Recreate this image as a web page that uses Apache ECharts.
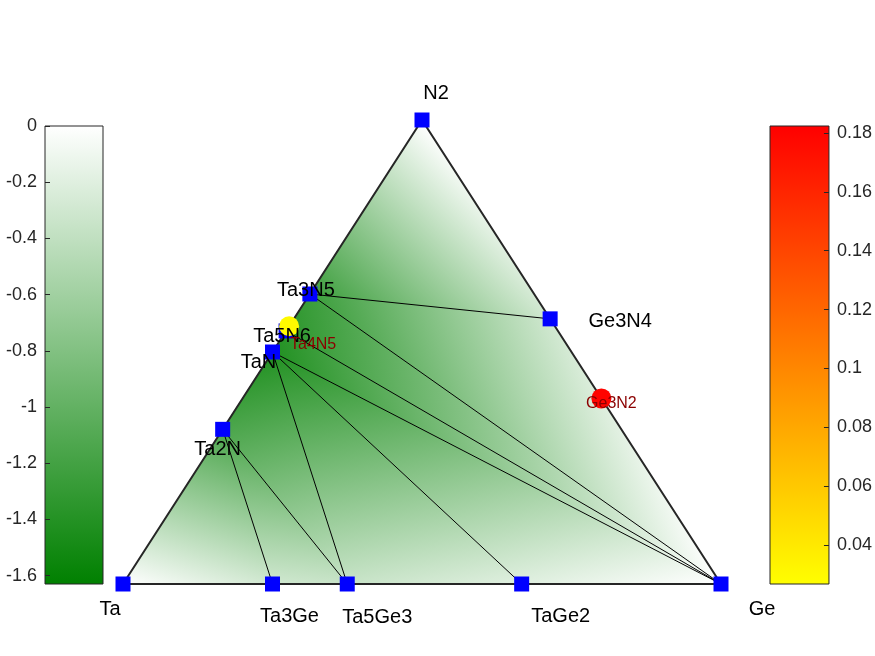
<!DOCTYPE html>
<html>
<head>
<meta charset="utf-8">
<title>Ta-Ge-N phase diagram</title>
<script src="https://cdn.jsdelivr.net/npm/echarts@6/dist/echarts.min.js"></script>
<style>
  html, body { margin: 0; padding: 0; background: #fff; }
  #chart { width: 875px; height: 656px; }
</style>
</head>
<body>
<div id="chart"></div>
<script>
// Stable phases (on the hull): composition fractions and formation energy (eV/atom)
const phases = ['Ta', 'Ge', 'N2', 'Ta2N', 'TaN', 'Ta5N6', 'Ta3N5', 'Ge3N4', 'Ta3Ge', 'Ta5Ge3', 'TaGe2'];
const fracGe = [0, 1, 0, 0, 0, 0, 0, 3 / 7, 1 / 4, 3 / 8, 2 / 3];
const fracN = [0, 0, 1, 1 / 3, 1 / 2, 6 / 11, 5 / 8, 4 / 7, 0, 0, 0];
const formationEnergy = [0, 0, 0, -1.15, -1.42, -1.35, -1.25, -0.3, -0.3, -0.35, -0.2];

// Unstable phases and their energy above the hull (eV/atom)
const unstable = ['Ta4N5', 'Ge3N2'];
const unstableGe = [0, 3 / 5];
const unstableN = [5 / 9, 2 / 5];
const eAboveHull = [0.03, 0.18];

// Hull tie lines and facets
const corners = ['Ta', 'Ge', 'N2'];
const tieLines = [
  ['Ta2N', 'Ta3Ge'], ['Ta2N', 'Ta5Ge3'], ['TaN', 'Ta5Ge3'], ['TaN', 'TaGe2'],
  ['TaN', 'Ge'], ['Ta5N6', 'Ge'], ['Ta3N5', 'Ge'], ['Ta3N5', 'Ge3N4']
];
const facets = [
  ['Ta', 'Ta2N', 'Ta3Ge'], ['Ta2N', 'Ta3Ge', 'Ta5Ge3'], ['Ta2N', 'TaN', 'Ta5Ge3'],
  ['TaN', 'Ta5Ge3', 'TaGe2'], ['TaN', 'TaGe2', 'Ge'], ['TaN', 'Ta5N6', 'Ge'],
  ['Ta5N6', 'Ta3N5', 'Ge'], ['Ta3N5', 'Ge3N4', 'Ge'], ['Ta3N5', 'N2', 'Ge3N4']
];

// Colour bar ranges and tick labels
const energyRange = [-1.63, 0];
const energyTicks = [-1.6, -1.4, -1.2, -1, -0.8, -0.6, -0.4, -0.2, 0];
const hullRange = [0.0267, 0.1824];
const hullTicks = [0.04, 0.06, 0.08, 0.1, 0.12, 0.14, 0.16, 0.18];

// label placement (pixels from the marker), not data
const labelOffsets = {
  Ta: [-13, 25], Ge: [41, 25], N2: [14, -27], Ta2N: [-5, 20], TaN: [-14, 10],
  Ta5N6: [-4, 6], Ta3N5: [-4, -4], Ge3N4: [70, 3], Ta3Ge: [17, 32],
  Ta5Ge3: [30, 33], TaGe2: [39, 32], Ta4N5: [24, 18], Ge3N2: [10, 5]
};

const FONT = "'Liberation Sans', Arial, sans-serif";
const GREEN = '#008000';

// ternary -> cartesian
function tern(ge, n) { return [ge + n / 2, n]; }
function pos(name) {
  const i = phases.indexOf(name);
  return tern(fracGe[i], fracN[i]);
}

const facetData = facets.map(f => {
  const row = [];
  f.forEach(name => {
    const p = pos(name);
    row.push(p[0], p[1], formationEnergy[phases.indexOf(name)]);
  });
  return row;
});

// Gouraud-like fill: linear colour over each facet as a global linear gradient
function renderFacet(params, api) {
  const pts = [0, 1, 2].map(k => api.coord([api.value(3 * k), api.value(3 * k + 1)]));
  const v = [0, 1, 2].map(k => api.value(3 * k + 2));
  const d1 = [pts[1][0] - pts[0][0], pts[1][1] - pts[0][1]];
  const d2 = [pts[2][0] - pts[0][0], pts[2][1] - pts[0][1]];
  const dv1 = v[1] - v[0], dv2 = v[2] - v[0];
  const det = d1[0] * d2[1] - d1[1] * d2[0];
  const gx = (dv1 * d2[1] - d1[1] * dv2) / det;
  const gy = (d1[0] * dv2 - dv1 * d2[0]) / det;
  const g2 = gx * gx + gy * gy;
  let fill;
  if (g2 < 1e-14) {
    fill = '#ffffff';
  } else {
    const a = (energyRange[0] - v[0]) / g2;
    const b = (energyRange[1] - v[0]) / g2;
    fill = {
      type: 'linear', global: true,
      x: pts[0][0] + gx * a, y: pts[0][1] + gy * a,
      x2: pts[0][0] + gx * b, y2: pts[0][1] + gy * b,
      colorStops: [{ offset: 0, color: GREEN }, { offset: 1, color: '#ffffff' }]
    };
  }
  return {
    type: 'polygon',
    shape: { points: pts },
    style: { fill: fill, stroke: fill, lineWidth: 1 }
  };
}

function renderColorbar(colors) {
  return function (params, api) {
    const p1 = api.coord([0, api.value(1)]);
    const p2 = api.coord([1, api.value(0)]);
    return {
      type: 'rect',
      shape: { x: p1[0], y: p1[1], width: p2[0] - p1[0], height: p2[1] - p1[1] },
      style: {
        fill: {
          type: 'linear', x: 0, y: 0, x2: 0, y2: 1,
          colorStops: [{ offset: 0, color: colors[0] }, { offset: 1, color: colors[1] }]
        },
        stroke: '#262626', lineWidth: 1
      }
    };
  };
}

const tieData = tieLines.map(([a, b]) => ({ coords: [pos(a), pos(b)] }));
const edgeData = [{ coords: [pos(corners[0]), pos(corners[1]), pos(corners[2]), pos(corners[0])] }];

const phaseData = phases.map(name => [...pos(name), name]);
const unstableData = unstable.map((name, i) => [...tern(unstableGe[i], unstableN[i]), eAboveHull[i], name]);

function labelItems(list, color, size) {
  return list.map(d => {
    const name = d[d.length - 1];
    return {
      value: [d[0], d[1]],
      name: name,
      label: { offset: labelOffsets[name], color: color, fontSize: size }
    };
  });
}

const chart = echarts.init(document.getElementById('chart'));

const tickAxis = (range, ticks, side) => ({
  type: 'value', gridIndex: side === 'left' ? 1 : 2, position: side,
  min: range[0], max: range[1], z: 10,
  axisLine: { show: false, onZero: false },
  splitLine: { show: false },
  axisTick: { show: true, inside: true, length: 5, customValues: ticks, lineStyle: { color: '#262626', width: 1 } },
  axisLabel: {
    customValues: ticks, margin: 8, fontSize: 18, color: '#262626', fontFamily: FONT,
    formatter: v => String(+v.toFixed(2))
  }
});

chart.setOption({
  backgroundColor: '#ffffff',
  animation: false,
  textStyle: { fontFamily: FONT },
  grid: [
    { left: 123, top: 120, width: 598, height: 464 },
    { left: 45, top: 126, width: 58, height: 458 },
    { left: 770, top: 126, width: 59, height: 458 }
  ],
  xAxis: [
    { type: 'value', gridIndex: 0, min: 0, max: 1, show: false },
    { type: 'value', gridIndex: 1, min: 0, max: 1, show: false },
    { type: 'value', gridIndex: 2, min: 0, max: 1, show: false }
  ],
  yAxis: [
    { type: 'value', gridIndex: 0, min: 0, max: 1, show: false },
    tickAxis(energyRange, energyTicks, 'left'),
    tickAxis(hullRange, hullTicks, 'right')
  ],
  visualMap: {
    show: false, type: 'continuous', seriesIndex: 4, dimension: 2,
    min: hullRange[0], max: hullRange[1],
    inRange: { color: ['#ffff00', '#ff0000'] }
  },
  series: [
    {
      type: 'custom', xAxisIndex: 0, yAxisIndex: 0, z: 1, silent: true,
      renderItem: renderFacet, data: facetData, clip: false
    },
    {
      type: 'lines', coordinateSystem: 'cartesian2d', xAxisIndex: 0, yAxisIndex: 0,
      z: 2, silent: true, data: tieData,
      lineStyle: { color: '#000000', width: 1, opacity: 1 }
    },
    {
      type: 'lines', coordinateSystem: 'cartesian2d', xAxisIndex: 0, yAxisIndex: 0,
      polyline: true, z: 3, silent: true, data: edgeData,
      lineStyle: { color: '#262626', width: 2, opacity: 1 }
    },
    {
      type: 'scatter', xAxisIndex: 0, yAxisIndex: 0, z: 4, silent: true,
      symbol: 'rect', symbolSize: 15, data: phaseData,
      itemStyle: { color: '#0000ff', opacity: 1 }
    },
    {
      type: 'scatter', xAxisIndex: 0, yAxisIndex: 0, z: 5, silent: true,
      symbol: 'circle', symbolSize: 20, data: unstableData,
      itemStyle: { opacity: 1 }
    },
    {
      type: 'scatter', xAxisIndex: 0, yAxisIndex: 0, z: 6, silent: true,
      symbolSize: 0, itemStyle: { opacity: 1 },
      data: labelItems(phaseData, '#000000', 20).concat(labelItems(unstableData, '#8b0000', 16)),
      label: {
        show: true, position: 'inside', align: 'center', verticalAlign: 'middle',
        fontFamily: FONT, formatter: p => p.name
      }
    },
    {
      type: 'custom', xAxisIndex: 1, yAxisIndex: 1, z: 1, silent: true,
      renderItem: renderColorbar(['#ffffff', GREEN]), data: [energyRange]
    },
    {
      type: 'custom', xAxisIndex: 2, yAxisIndex: 2, z: 1, silent: true,
      renderItem: renderColorbar(['#ff0000', '#ffff00']), data: [hullRange]
    }
  ]
});

window.addEventListener('resize', function () {
  chart.resize();
});
</script>
</body>
</html>
